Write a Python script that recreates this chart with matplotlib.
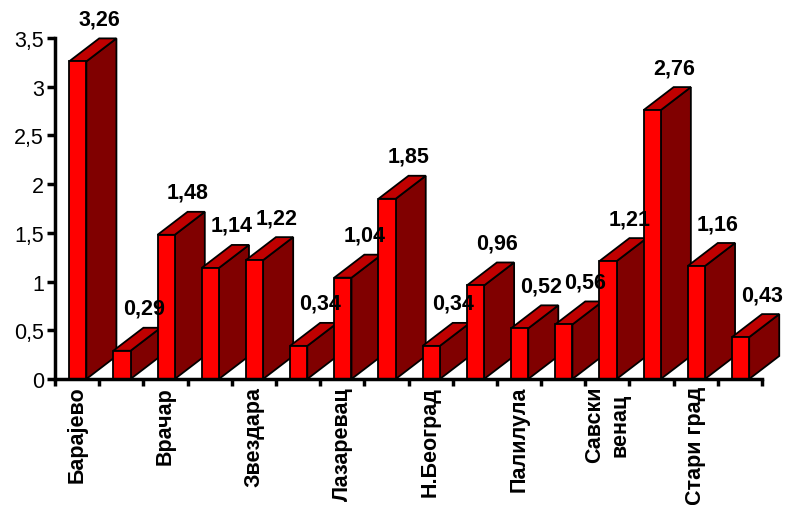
import matplotlib
matplotlib.use("Agg")
import matplotlib.pyplot as plt
from matplotlib.patches import Polygon

plt.rcParams['font.family'] = ['Liberation Sans', 'DejaVu Sans']

# opstine Beograda (prikazuje se svaka druga)
opstine = ['Барајево', 'Вождовац', 'Врачар', 'Гроцка', 'Звездара', 'Земун',
           'Лазаревац', 'Младеновац', 'Н.Београд', 'Обреновац', 'Палилула',
           'Раковица', 'Савски\nвенац', 'Сопот', 'Стари град', 'Чукарица']
vrednosti = [3.26, 0.29, 1.48, 1.14, 1.22, 0.34, 1.04, 1.85,
             0.34, 0.96, 0.52, 0.56, 1.21, 2.76, 1.16, 0.43]
y_ticks = [0, 0.5, 1, 1.5, 2, 2.5, 3, 3.5]

# izgled 3D stubica
left = 0.32      # pomak prednje strane od pocetka kategorije
w = 0.39         # sirina prednje strane
dx = 0.68        # dubina po x
dy = 0.236       # dubina po y

fig = plt.figure(figsize=(7.88, 5.06), dpi=100)
ax = fig.add_axes([55/788, (506-380)/506, 707/788, 341/506])

n = len(vrednosti)
for i, v in enumerate(vrednosti):
    x0 = i + left
    x1 = x0 + w
    side = Polygon([(x1, 0), (x1, v), (x1+dx, v+dy), (x1+dx, dy)], closed=True,
                   facecolor='#800000', edgecolor='black', lw=1.3, clip_on=False)
    top = Polygon([(x0, v), (x1, v), (x1+dx, v+dy), (x0+dx, v+dy)], closed=True,
                  facecolor='#C00000', edgecolor='black', lw=1.3, clip_on=False)
    front = Polygon([(x0, 0), (x1, 0), (x1, v), (x0, v)], closed=True,
                    facecolor='#FF0000', edgecolor='black', lw=1.3, clip_on=False)
    ax.add_patch(side)
    ax.add_patch(top)
    ax.add_patch(front)
    lbl = ('%.2f' % v).replace('.', ',')
    ax.text(x0 + (w+dx)/2 + 0.15, v + dy + 0.2, lbl, ha='center', va='center',
            fontsize=15.5, fontweight='bold')

ax.set_xlim(0, n)
ax.set_ylim(0, 3.5)

ax.set_yticks(y_ticks)
ax.set_yticklabels([('%g' % t).replace('.', ',') for t in y_ticks], fontsize=15.5)

ax.set_xticks(range(n+1))
ax.set_xticklabels([])
for i in range(0, n, 2):
    ax.text(i + 0.5, -0.07, opstine[i], rotation=90, ha='center', va='top',
            fontsize=15.5, fontweight='bold', linespacing=1.25)

ax.spines['top'].set_visible(False)
ax.spines['right'].set_visible(False)
ax.spines['left'].set_linewidth(2.5)
ax.spines['bottom'].set_linewidth(2.5)
ax.tick_params(axis='y', direction='out', length=6, width=2.5, pad=2)
ax.tick_params(axis='x', direction='out', length=5, width=2.5)

fig.savefig('out.png', dpi=100)
